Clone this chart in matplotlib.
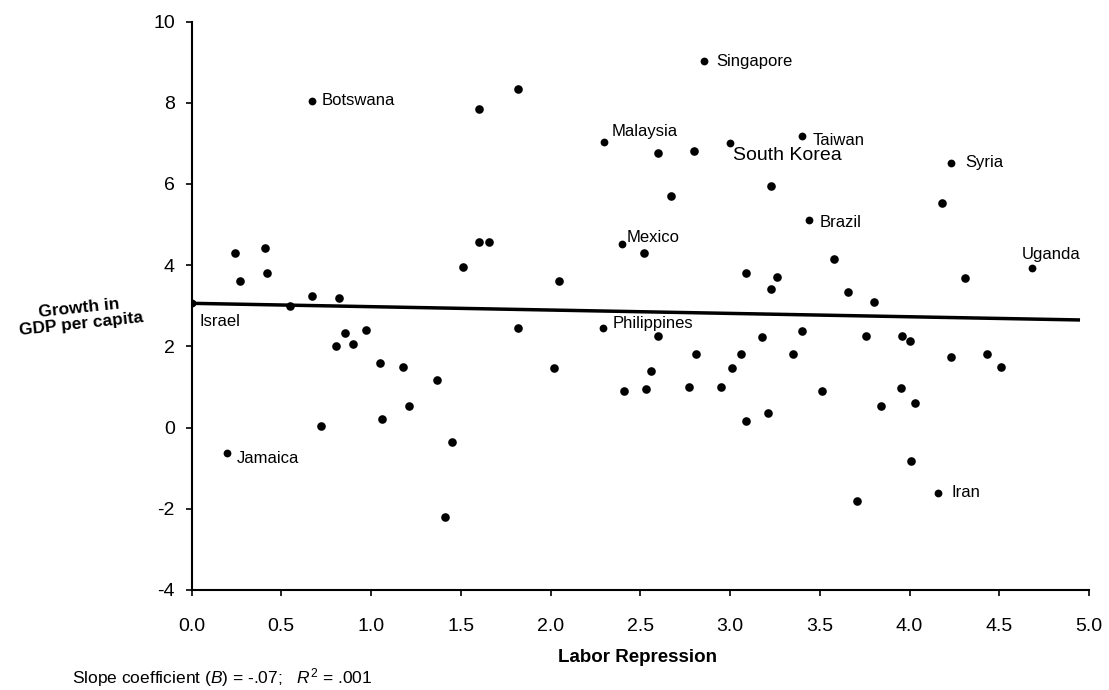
import matplotlib
matplotlib.use("Agg")
import matplotlib.pyplot as plt

plt.rcParams['font.family'] = ['Liberation Sans', 'DejaVu Sans']
plt.rcParams['mathtext.fontset'] = 'custom'
plt.rcParams['mathtext.rm'] = 'Liberation Sans'
plt.rcParams['mathtext.it'] = 'Liberation Sans:italic'

# Unlabeled countries (labor repression, growth in GDP per capita)
other_x = [0.24, 0.27, 0.41, 0.42, 1.60, 1.82, 1.60, 1.66, 1.51, 0.67, 0.82,
           0.55, 0.805, 0.857, 0.90, 0.97, 1.05, 1.18, 1.37, 1.06, 1.21, 0.72,
           1.45, 1.41, 1.82, 2.02,
           2.60, 2.80, 2.67, 3.23, 4.18, 2.52, 3.58, 4.31, 2.05, 3.09, 3.26,
           3.23, 3.66, 3.80,
           2.60, 3.18, 3.40, 3.76, 3.96, 4.00, 2.81, 3.06, 3.35, 4.23, 4.43,
           4.51, 3.01, 2.56, 2.41, 2.53, 2.77, 2.95, 3.51, 3.95, 3.84, 4.03,
           3.09, 3.21, 4.01, 3.71]
other_y = [4.30, 3.60, 4.43, 3.80, 7.85, 8.33, 4.57, 4.56, 3.95, 3.23, 3.18,
           3.00, 2.02, 2.33, 2.06, 2.41, 1.60, 1.48, 1.16, 0.21, 0.52, 0.03,
           -0.36, -2.19, 2.45, 1.46,
           6.77, 6.81, 5.70, 5.94, 5.54, 4.30, 4.14, 3.69, 3.60, 3.80, 3.72,
           3.42, 3.35, 3.10,
           2.25, 2.22, 2.39, 2.25, 2.25, 2.14, 1.80, 1.80, 1.81, 1.73, 1.80,
           1.49, 1.47, 1.39, 0.91, 0.95, 0.99, 0.99, 0.91, 0.98, 0.52, 0.60,
           0.17, 0.36, -0.83, -1.81]

# Labeled countries
labels = ['Singapore', 'Botswana', 'Malaysia', 'South Korea', 'Taiwan', 'Syria',
          'Brazil', 'Mexico', 'Uganda', 'Philippines', 'Iran', 'Israel', 'Jamaica']
label_x = [2.855, 0.67, 2.30, 3.00, 3.40, 4.23, 3.44, 2.40, 4.68, 2.29, 4.16, 0.0, 0.20]
label_y = [9.02, 8.05, 7.04, 7.00, 7.19, 6.52, 5.11, 4.51, 3.93, 2.46, -1.61, 3.06, -0.63]

# Regression line end points
line_x = [0.0, 4.95]
line_y = [3.06, 2.65]

x_ticks = [0.0, 0.5, 1.0, 1.5, 2.0, 2.5, 3.0, 3.5, 4.0, 4.5, 5.0]
y_ticks = [-4, -2, 0, 2, 4, 6, 8, 10]

# label offsets in pixels (dx right, dy down)
offsets = {
    'Singapore': (12, 0), 'Botswana': (10, 0), 'Malaysia': (7, -10),
    'South Korea': (3, 12), 'Taiwan': (11, 5), 'Syria': (14, 0),
    'Brazil': (11, 2), 'Mexico': (4, -7), 'Uganda': (-10, -13),
    'Philippines': (10, -4), 'Iran': (13, 0), 'Israel': (8, 18),
    'Jamaica': (9, 5),
}

fig = plt.figure(figsize=(11.09, 6.90), dpi=100)
ax = fig.add_axes([191.5 / 1109, 1 - 590 / 690, (1089 - 191.5) / 1109, (590 - 21.5) / 690])

ax.plot(line_x, line_y, color='black', lw=2.5, solid_capstyle='butt', zorder=2)
ax.plot(other_x, other_y, 'o', color='black', ms=6.2, mew=0, zorder=3)
ax.plot(label_x, label_y, 'o', color='black', ms=5.6, mew=0, zorder=3)

for name, x, y in zip(labels, label_x, label_y):
    dx, dy = offsets[name]
    fs = 14 if name == 'South Korea' else 12
    ax.annotate(name, (x, y), xytext=(dx, -dy), textcoords='offset pixels',
                ha='left', va='center', fontsize=fs, color='black')

ax.set_xlim(0, 5)
ax.set_ylim(-4, 10)
ax.set_xticks(x_ticks)
ax.set_xticklabels([f"{t:.1f}" for t in x_ticks])
ax.set_yticks(y_ticks)
ax.set_yticklabels([str(t) for t in y_ticks])
ax.tick_params(axis='x', direction='out', length=4, width=1.2, pad=16, labelsize=14)
ax.tick_params(axis='y', direction='out', length=4, width=1.2, pad=8, labelsize=14)

for s in ['top', 'right']:
    ax.spines[s].set_visible(False)
for s in ['left', 'bottom']:
    ax.spines[s].set_linewidth(1.5)

fig.text(638 / 1109, 1 - 658 / 690, 'Labor Repression', ha='center', va='center',
         fontsize=13.5, fontweight='bold')
fig.text(72 / 1109, 1 - 678 / 690,
         r'Slope coefficient ($\mathit{B}$) = -.07;   $\mathit{R}^2$ = .001',
         ha='left', va='center', fontsize=12.5)
fig.text(80 / 1109, 1 - 316 / 690, 'Growth in\nGDP per capita', ha='center',
         va='center', fontsize=12.5, fontweight='bold', rotation=6,
         multialignment='center', linespacing=1.1)

fig.savefig('out.png', dpi=100)
